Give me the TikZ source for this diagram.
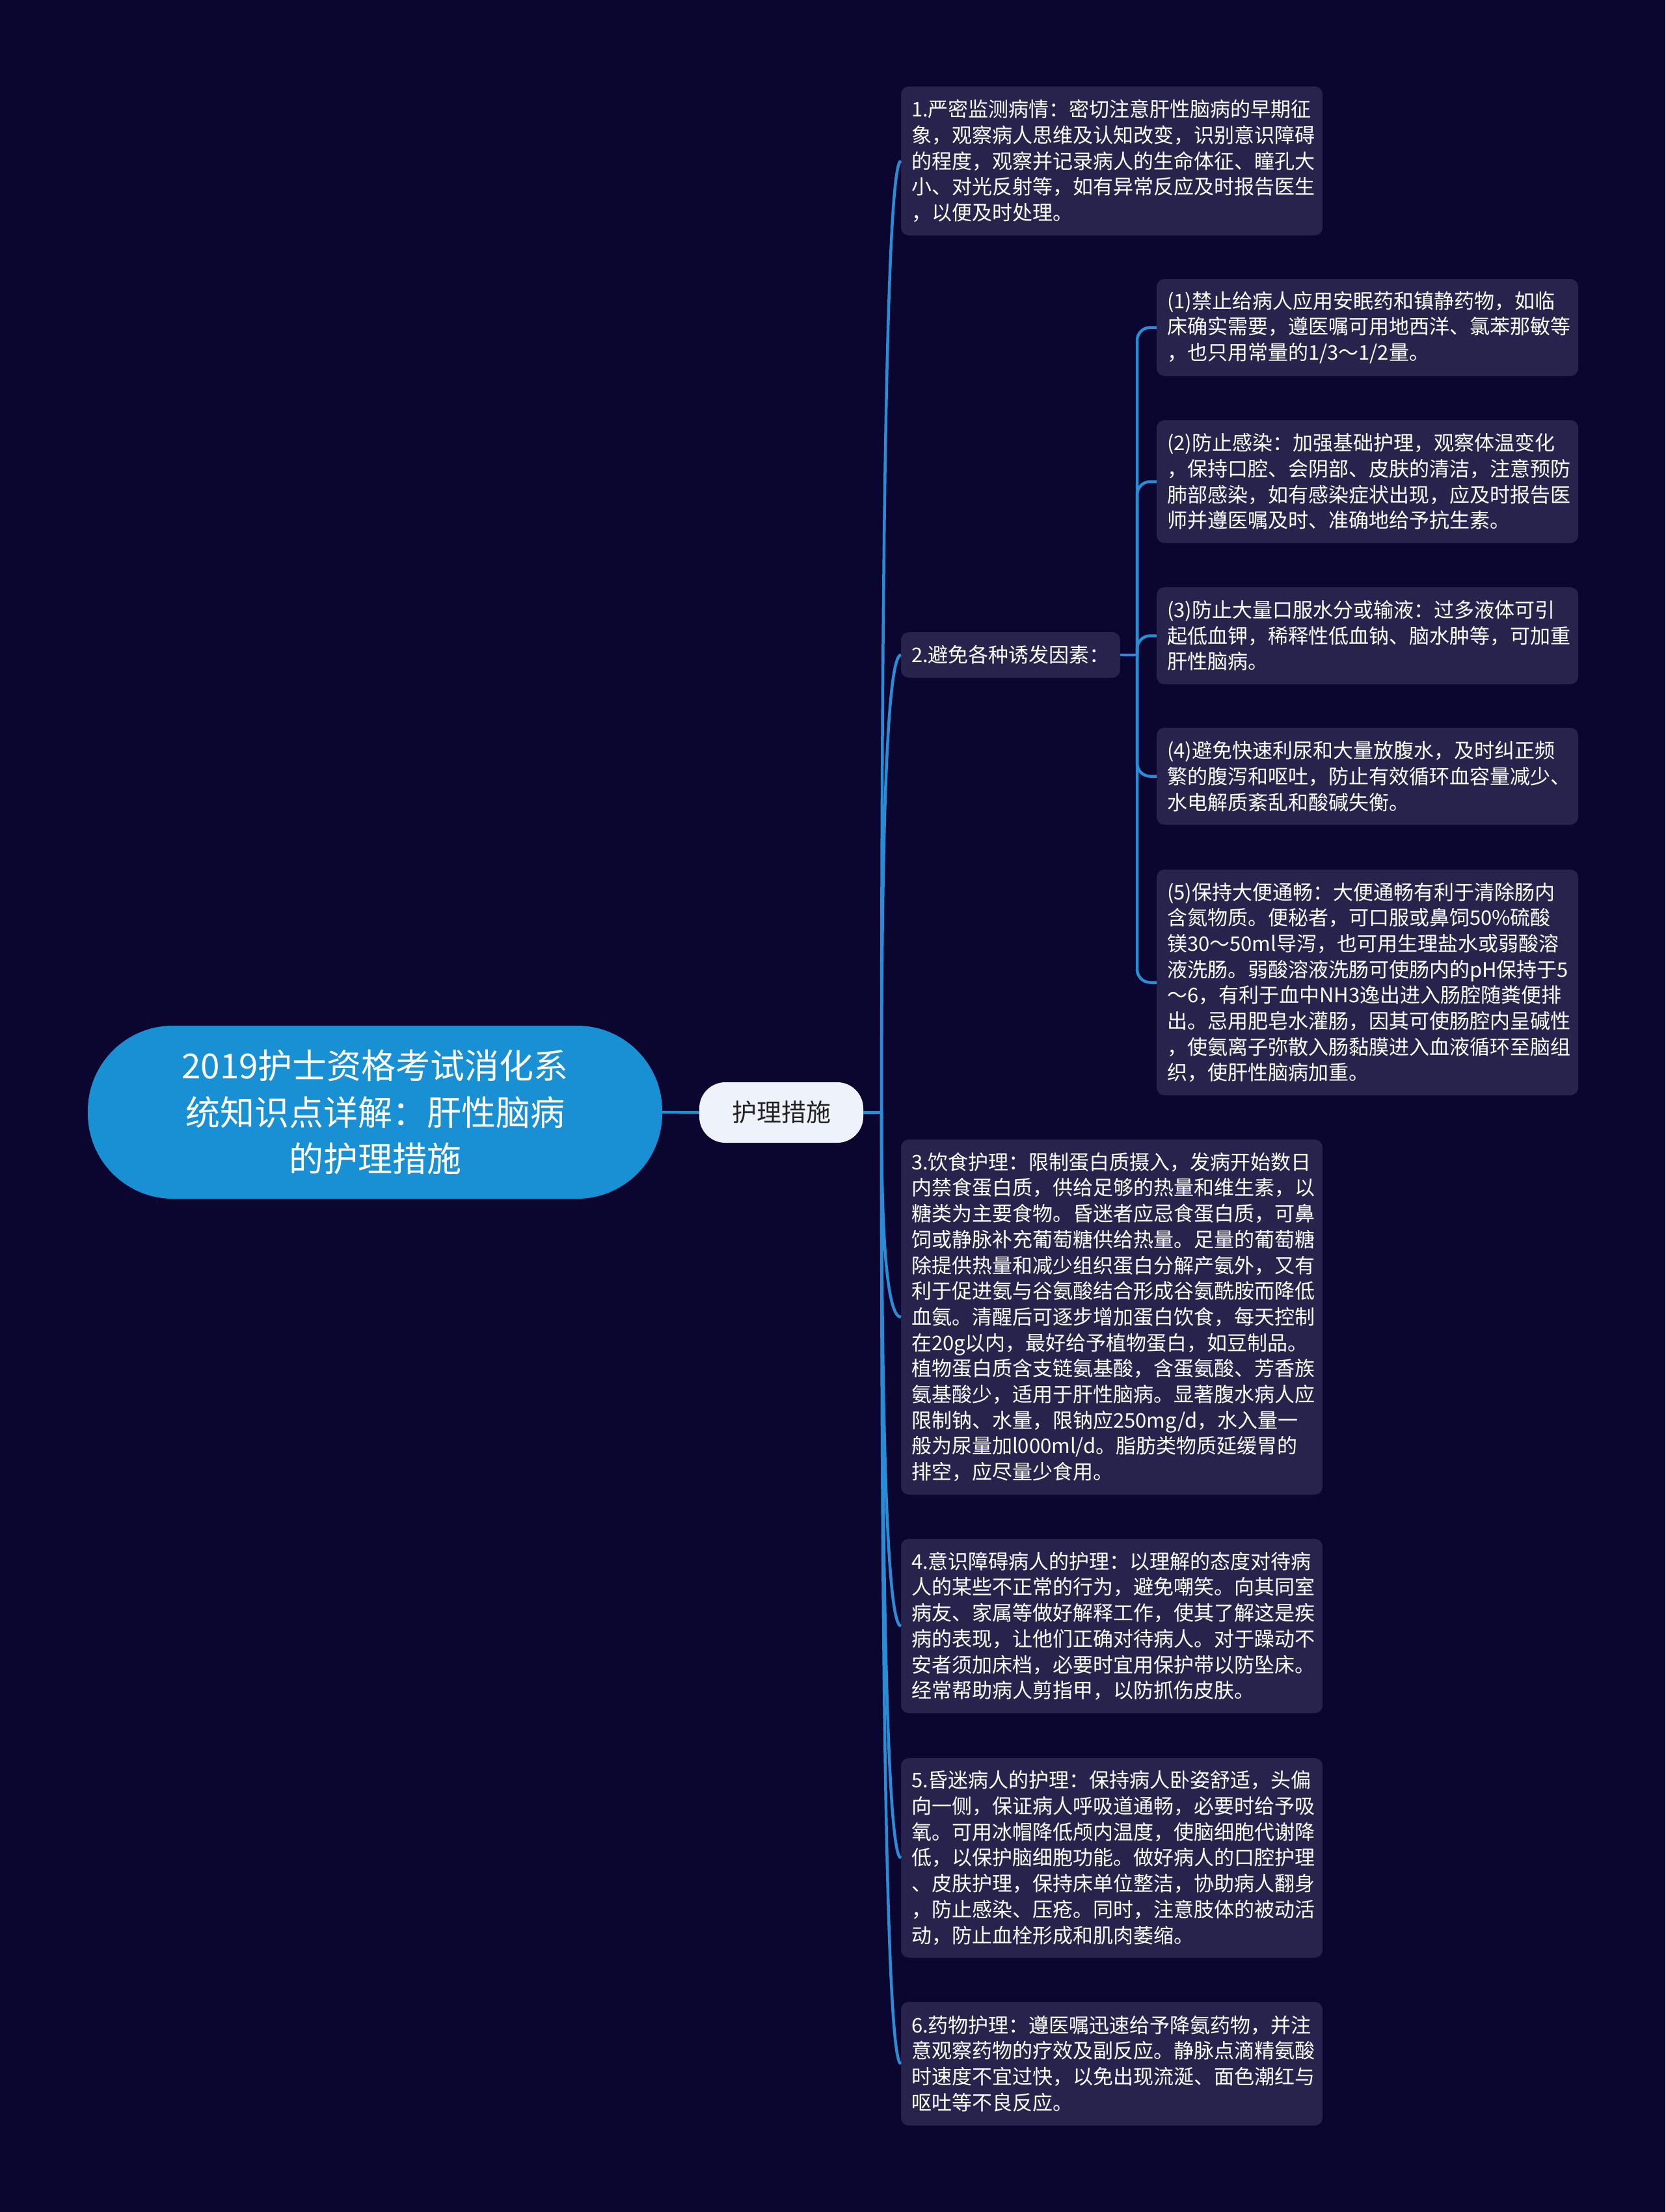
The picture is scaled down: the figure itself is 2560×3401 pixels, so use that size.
\documentclass[tikz,border=0pt]{standalone}
\usepackage{fontspec}
\setmainfont{Noto Sans CJK SC}
\usetikzlibrary{calc}
\definecolor{bgc}{HTML}{0B0630}
\definecolor{boxc}{HTML}{27234D}
\definecolor{rootc}{HTML}{1890D3}
\definecolor{linec}{HTML}{2A8CD4}
\definecolor{hlc}{HTML}{EEF2FB}
\definecolor{darktxt}{HTML}{222222}
\begin{document}
\begin{tikzpicture}[x=1pt,y=-1pt,
  boxbase/.style={draw=none, fill=boxc, rounded corners=12pt, text=white, align=left,
    inner xsep=16pt, inner ysep=0pt, outer sep=0pt, anchor=west,
    font=\fontsize{31}{39.7}\selectfont},
  leaf/.style={boxbase, text width=616pt},
  link/.style={draw=linec, line width=4.5pt},
]
\fill[bgc] (0,0) rectangle (2560,3401);
\useasboundingbox (0,0) rectangle (2560,3401);

% root
\node[fill=rootc, rounded corners=131pt, minimum width=883pt, minimum height=266pt,
  text=white, align=center, inner sep=0pt, outer sep=0pt,
  font=\fontsize{53}{71.6}\selectfont] (root) at (576.5,1710)
  {2019护士资格考试消化系\\统知识点详解：肝性脑病\\的护理措施};

% level 1
\node[fill=hlc, rounded corners=40pt, minimum width=252pt, minimum height=93pt,
  text=darktxt, inner sep=0pt, outer sep=0pt,
  font=\fontsize{38}{46}\selectfont] (hl) at (1201,1710.5) {护理措施};

% level 2
\node[leaf, minimum height=229pt] (c1) at (1385,247.5)
{1.严密监测病情：密切注意肝性脑病的早期征\\
象，观察病人思维及认知改变，识别意识障碍\\
的程度，观察并记录病人的生命体征、瞳孔大\\
小、对光反射等，如有异常反应及时报告医生\\
，以便及时处理。};

\node[boxbase, minimum width=333pt, minimum height=70pt] (c2) at (1385,1007)
{2.避免各种诱发因素：};

\node[leaf, minimum height=546pt] (c3) at (1385,2025)
{3.饮食护理：限制蛋白质摄入，发病开始数日\\
内禁食蛋白质，供给足够的热量和维生素，以\\
糖类为主要食物。昏迷者应忌食蛋白质，可鼻\\
饲或静脉补充葡萄糖供给热量。足量的葡萄糖\\
除提供热量和减少组织蛋白分解产氨外，又有\\
利于促进氨与谷氨酸结合形成谷氨酰胺而降低\\
血氨。清醒后可逐步增加蛋白饮食，每天控制\\
在20g以内，最好给予植物蛋白，如豆制品。\\
植物蛋白质含支链氨基酸，含蛋氨酸、芳香族\\
氨基酸少，适用于肝性脑病。显著腹水病人应\\
限制钠、水量，限钠应250mg/d，水入量一\\
般为尿量加l000ml/d。脂肪类物质延缓胃的\\
排空，应尽量少食用。};

\node[leaf, minimum height=268pt] (c4) at (1385,2500)
{4.意识障碍病人的护理：以理解的态度对待病\\
人的某些不正常的行为，避免嘲笑。向其同室\\
病友、家属等做好解释工作，使其了解这是疾\\
病的表现，让他们正确对待病人。对于躁动不\\
安者须加床档，必要时宜用保护带以防坠床。\\
经常帮助病人剪指甲，以防抓伤皮肤。};

\node[leaf, minimum height=307pt] (c5) at (1385,2856.5)
{5.昏迷病人的护理：保持病人卧姿舒适，头偏\\
向一侧，保证病人呼吸道通畅，必要时给予吸\\
氧。可用冰帽降低颅内温度，使脑细胞代谢降\\
低，以保护脑细胞功能。做好病人的口腔护理\\
、皮肤护理，保持床单位整洁，协助病人翻身\\
，防止感染、压疮。同时，注意肢体的被动活\\
动，防止血栓形成和肌肉萎缩。};

\node[leaf, minimum height=190pt] (c6) at (1385,3173)
{6.药物护理：遵医嘱迅速给予降氨药物，并注\\
意观察药物的疗效及副反应。静脉点滴精氨酸\\
时速度不宜过快，以免出现流涎、面色潮红与\\
呕吐等不良反应。};

% level 3
\node[leaf, minimum height=149pt] (s1) at (1778,503.5)
{(1)禁止给病人应用安眠药和镇静药物，如临\\
床确实需要，遵医嘱可用地西洋、氯苯那敏等\\
，也只用常量的1/3～1/2量。};

\node[leaf, minimum height=189pt] (s2) at (1778,740.5)
{(2)防止感染：加强基础护理，观察体温变化\\
，保持口腔、会阴部、皮肤的清洁，注意预防\\
肺部感染，如有感染症状出现，应及时报告医\\
师并遵医嘱及时、准确地给予抗生素。};

\node[leaf, minimum height=149pt] (s3) at (1778,977.5)
{(3)防止大量口服水分或输液：过多液体可引\\
起低血钾，稀释性低血钠、脑水肿等，可加重\\
肝性脑病。};

\node[leaf, minimum height=149pt] (s4) at (1778,1193.5)
{(4)避免快速利尿和大量放腹水，及时纠正频\\
繁的腹泻和呕吐，防止有效循环血容量减少、\\
水电解质紊乱和酸碱失衡。};

\node[leaf, minimum height=347pt] (s5) at (1778,1510.5)
{(5)保持大便通畅：大便通畅有利于清除肠内\\
含氮物质。便秘者，可口服或鼻饲50\%硫酸\\
镁30～50ml导泻，也可用生理盐水或弱酸溶\\
液洗肠。弱酸溶液洗肠可使肠内的pH保持于5\\
～6，有利于血中NH3逸出进入肠腔随粪便排\\
出。忌用肥皂水灌肠，因其可使肠腔内呈碱性\\
，使氨离子弥散入肠黏膜进入血液循环至脑组\\
织，使肝性脑病加重。};

% connectors
\draw[link] (root.east) -- (hl.west);
\coordinate (j) at (1355,1710.5);
\draw[link] (hl.east) -- (j);
\foreach \c in {c1,c2,c3,c4,c5,c6}
  \draw[link] (j) .. controls ($(j)!0.667!(j|-\c.west)$) and ($(\c.west)!0.667!(j|-\c.west)$) .. (\c.west);

\coordinate (k) at (1748,1007);
\draw[link] (c2.east) -- (k);
\foreach \s in {s1,s2,s3,s4,s5}
  \draw[link, rounded corners=20pt] (k) |- (\s.west);
\end{tikzpicture}
\end{document}
